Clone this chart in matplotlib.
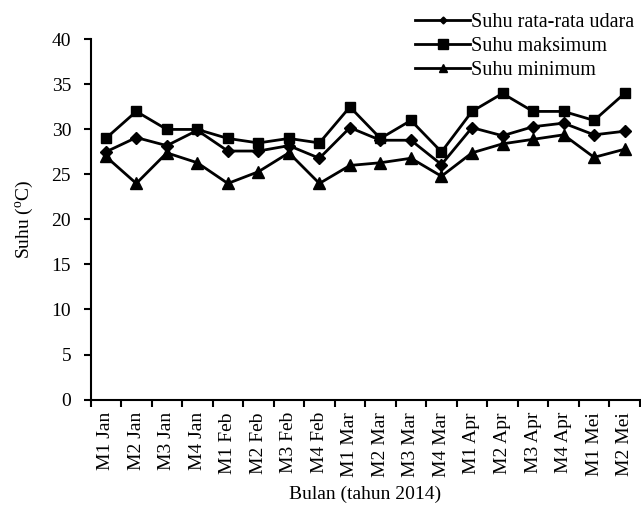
import matplotlib
matplotlib.use('Agg')
import matplotlib.pyplot as plt
import numpy as np

plt.rcParams.update({
    'font.family': 'Liberation Serif',
    'font.size': 14,
    'mathtext.fontset': 'custom',
    'mathtext.rm': 'Liberation Serif',
    'mathtext.it': 'Liberation Serif:italic',
})

# Mingguan Jan - Mei 2014
weeks = ['M1 Jan', 'M2 Jan', 'M3 Jan', 'M4 Jan',
         'M1 Feb', 'M2 Feb', 'M3 Feb', 'M4 Feb',
         'M1 Mar', 'M2 Mar', 'M3 Mar', 'M4 Mar',
         'M1 Apr', 'M2 Apr', 'M3 Apr', 'M4 Apr',
         'M1 Mei', 'M2 Mei']
suhu_rata = [27.5, 29.1, 28.2, 29.9, 27.6, 27.6, 28.2, 26.8, 30.2,
             28.8, 28.8, 26.1, 30.2, 29.3, 30.3, 30.7, 29.4, 29.8]
suhu_maks = [29.0, 32.0, 30.0, 30.0, 29.0, 28.5, 29.0, 28.5, 32.5,
             29.0, 31.0, 27.5, 32.0, 34.0, 32.0, 32.0, 31.0, 34.0]
suhu_min = [27.0, 24.0, 27.4, 26.3, 24.0, 25.3, 27.4, 24.0, 26.0,
            26.3, 26.8, 24.8, 27.4, 28.4, 28.9, 29.4, 26.9, 27.8]

fig = plt.figure(figsize=(6.41, 5.13), dpi=100)
ax = fig.add_axes([0.1412, 0.2212, 0.857, 0.702])

x = np.arange(len(weeks)) + 0.5
ax.plot(x, suhu_rata, color='black', lw=2, marker='D', ms=6.5,
        label='Suhu rata-rata udara')
ax.plot(x, suhu_maks, color='black', lw=2, marker='s', ms=7.5,
        label='Suhu maksimum')
ax.plot(x, suhu_min, color='black', lw=2, marker='^', ms=9,
        label='Suhu minimum')

ax.set_xlim(0, len(weeks))
ax.set_ylim(0, 40)
ax.set_yticks(np.arange(0, 41, 5))

# tick marks sit between the categories, labels at the centres
ax.set_xticks(np.arange(0, len(weeks) + 1))
ax.set_xticklabels([])
ax.set_xticks(x, minor=True)
ax.set_xticklabels(weeks, minor=True, rotation=90)
ax.tick_params(axis='x', which='minor', length=0, pad=9)
ax.tick_params(axis='x', which='major', length=5, width=1.5, direction='out')
ax.tick_params(axis='y', length=5, width=1.5, direction='out', pad=9)

for side in ['top', 'right']:
    ax.spines[side].set_visible(False)
for side in ['left', 'bottom']:
    ax.spines[side].set_linewidth(1.5)

ax.set_ylabel(r'Suhu ($^{\mathrm{o}}$C)', labelpad=12)
ax.set_xlabel('Bulan (tahun 2014)', labelpad=6)

leg = ax.legend(loc='upper right', bbox_to_anchor=(1.005, 1.097), frameon=False,
                fontsize=14.5, handlelength=2.75, handletextpad=0.05,
                labelspacing=0.25, borderaxespad=0)
for h, size in zip(leg.legend_handles, [3.5, 6.5, 6]):
    h.set_markersize(size)

fig.savefig('out.png', dpi=100)
